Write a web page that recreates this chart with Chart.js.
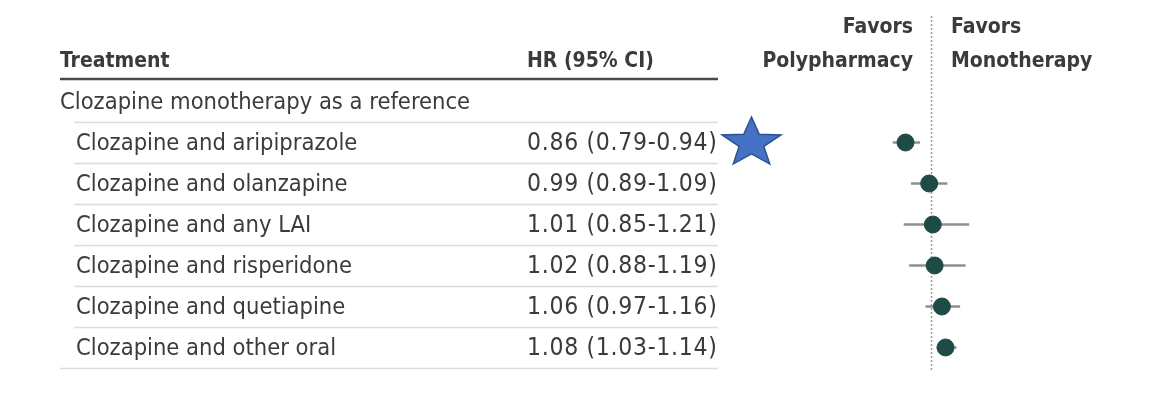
<!DOCTYPE html>
<html>
<head>
<meta charset="utf-8">
<script src="https://cdn.jsdelivr.net/npm/chart.js@4.4.1/dist/chart.umd.min.js"></script>
<style>
  html, body { margin: 0; padding: 0; background: #ffffff; }
  #wrap { width: 1158px; height: 396px; }
</style>
</head>
<body>
<div id="wrap"><canvas id="c" width="1158" height="396"></canvas></div>
<script>
// ---- data ----
const categories = [
  "Clozapine and aripiprazole",
  "Clozapine and olanzapine",
  "Clozapine and any LAI",
  "Clozapine and risperidone",
  "Clozapine and quetiapine",
  "Clozapine and other oral"
];
const hr     = [0.86, 0.99, 1.01, 1.02, 1.06, 1.08];
const ciLow  = [0.79, 0.89, 0.85, 0.88, 0.97, 1.03];
const ciHigh = [0.94, 1.09, 1.21, 1.19, 1.16, 1.14];
const referenceRow = "Clozapine monotherapy as a reference";
const colTreatment = "Treatment";
const colHR = "HR (95% CI)";
const favorsLeft = ["Favors", "Polypharmacy"];
const favorsRight = ["Favors", "Monotherapy"];
const highlighted = [0]; // rows marked with a star
const nullValue = 1;

const hrText = hr.map((v, i) => `${v.toFixed(2)} (${ciLow[i].toFixed(2)}-${ciHigh[i].toFixed(2)})`);

// ---- styles ----
const FONT = '"DejaVu Sans Condensed", "Liberation Sans Narrow", sans-serif';
const TEXT = '#3b3b3b';
const DOT = '#1f4b47';
const WHISKER = '#8f8f8f';

const ciDatasets = categories.map((c, i) => ({
  type: 'line',
  data: [{x: ciLow[i], y: i}, {x: ciHigh[i], y: i}],
  borderColor: WHISKER,
  borderWidth: 2.5,
  pointRadius: 0,
  order: 2
}));

const pointDataset = {
  type: 'scatter',
  data: hr.map((v, i) => ({x: v, y: i})),
  backgroundColor: DOT,
  borderColor: DOT,
  pointRadius: 8.5,
  pointHoverRadius: 8.5,
  order: 1
};

function star(ctx, cx, cy, rx, ry, inner) {
  ctx.beginPath();
  for (let k = 0; k < 10; k++) {
    const a = -Math.PI / 2 + k * Math.PI / 5;
    const f = (k % 2 === 0) ? 1 : inner;
    const x = cx + Math.cos(a) * rx * f;
    const y = cy + Math.sin(a) * ry * f;
    if (k === 0) ctx.moveTo(x, y); else ctx.lineTo(x, y);
  }
  ctx.closePath();
}

const tablePlugin = {
  id: 'table',
  beforeDatasetsDraw(chart) {
    const ctx = chart.ctx;
    const ys = chart.scales.y, xs = chart.scales.x;
    const rowY = i => ys.getPixelForValue(i) + 1;
    ctx.save();
    // header
    ctx.fillStyle = TEXT;
    ctx.textBaseline = 'middle';
    ctx.font = 'bold 21px ' + FONT;
    ctx.textAlign = 'left';
    ctx.fillText(colTreatment, 60, rowY(-2));
    ctx.fillText(colHR, 527, rowY(-2));
    ctx.textAlign = 'right';
    ctx.fillText(favorsLeft[0], 913, 28);
    ctx.fillText(favorsLeft[1], 913, rowY(-2));
    ctx.textAlign = 'left';
    ctx.fillText(favorsRight[0], 951, 28);
    ctx.fillText(favorsRight[1], 951, rowY(-2));

    // header rule
    ctx.strokeStyle = '#4a4a4a';
    ctx.lineWidth = 2.5;
    ctx.beginPath();
    ctx.moveTo(60, ys.getPixelForValue(-1.5) - 2);
    ctx.lineTo(718, ys.getPixelForValue(-1.5) - 2);
    ctx.stroke();

    // reference row
    ctx.font = '23.5px ' + FONT;
    ctx.fillText(referenceRow, 60, rowY(-1));

    // row separators
    ctx.strokeStyle = '#dcdcdc';
    ctx.lineWidth = 1.5;
    for (let i = -1; i < categories.length; i++) {
      const y = Math.round(ys.getPixelForValue(i + 0.5)) + 0.5;
      ctx.beginPath();
      ctx.moveTo(i === categories.length - 1 ? 60 : 74, y);
      ctx.lineTo(718, y);
      ctx.stroke();
    }

    // rows
    categories.forEach((c, i) => {
      ctx.textAlign = 'left';
      ctx.font = '23.5px ' + FONT;
      ctx.letterSpacing = '0px';
      ctx.fillText(c, 76, rowY(i));
      ctx.font = '24.5px ' + FONT;
      ctx.letterSpacing = '0.7px';
      ctx.fillText(hrText[i], 527, rowY(i));
    });
    ctx.letterSpacing = '0px';

    // reference line
    const x1 = Math.round(xs.getPixelForValue(nullValue)) + 0.5;
    ctx.strokeStyle = '#9a9a9a';
    ctx.lineWidth = 1.5;
    ctx.setLineDash([2, 2]);
    ctx.beginPath();
    ctx.moveTo(x1, 16);
    ctx.lineTo(x1, ys.getPixelForValue(categories.length - 0.5) + 2);
    ctx.stroke();
    ctx.setLineDash([]);
    ctx.restore();
  },
  afterDraw(chart) {
    const ctx = chart.ctx;
    const ys = chart.scales.y;
    ctx.save();
    highlighted.forEach(i => {
      star(ctx, 751.5, ys.getPixelForValue(i) + 0.5, 31, 26, 0.42);
      ctx.fillStyle = '#4472c4';
      ctx.fill();
      ctx.strokeStyle = '#2f528f';
      ctx.lineWidth = 1.5;
      ctx.stroke();
    });
    ctx.restore();
  }
};

new Chart(document.getElementById('c'), {
  type: 'scatter',
  data: { datasets: [...ciDatasets, pointDataset] },
  options: {
    responsive: false,
    devicePixelRatio: 1,
    animation: false,
    layout: { padding: { left: 749, right: 45, top: 122, bottom: 28 } },
    plugins: { legend: { display: false }, tooltip: { enabled: false } },
    scales: {
      x: { type: 'linear', min: 0, max: 2, display: false },
      y: { type: 'linear', min: -0.5, max: categories.length - 0.5, reverse: true, display: false }
    }
  },
  plugins: [tablePlugin]
});
</script>
</body>
</html>
